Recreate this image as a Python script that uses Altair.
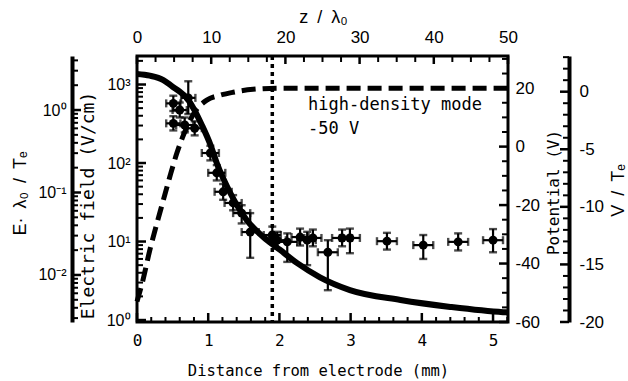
import altair as alt
import pandas as pd

# ---------------- data ----------------
# measured electric field points (distance in mm, field in V/cm)
PT_MM = [0.51, 0.60, 0.72, 0.51, 0.67, 0.81, 1.03, 1.12, 1.21, 1.35, 1.47, 1.59,
         1.90, 1.97, 2.11, 2.29, 2.39, 2.47, 2.68, 2.88, 2.99, 3.51, 4.02, 4.51, 5.00]
PT_E = [575, 473, 676, 320, 305, 277, 134, 75, 43, 31, 23, 13.2,
        12.1, 10.4, 9.9, 11.4, 10.4, 11.1, 7.3, 11.1, 11.1, 10.1, 9.0, 9.9, 10.4]
PT_ELO = [460, 380, 420, 260, 245, 225, 108, 60, 34, 25, 17, 6.2,
          9.5, 8.1, 5.5, 8.9, 5.0, 8.7, 2.4, 8.7, 7.1, 7.9, 6.0, 7.7, 7.3]
PT_EHI = [720, 590, 1100, 395, 380, 340, 166, 94, 54, 39, 29, 23,
          15.5, 13.3, 12.7, 14.6, 13.3, 14.2, 10.4, 14.2, 14.6, 12.9, 12.1, 12.7, 14.4]
PT_XERR = [0.10, 0.10, 0.10, 0.10, 0.12, 0.10, 0.12, 0.12, 0.12, 0.12, 0.12, 0.12,
           0.12, 0.12, 0.14, 0.12, 0.12, 0.12, 0.14, 0.14, 0.14, 0.14, 0.14, 0.14, 0.14]

# calculated electric field (solid curve)
EC_MM = [0, 0.18, 0.37, 0.50, 0.60, 0.70, 0.79, 0.91, 1.03, 1.12, 1.31, 1.54, 1.77,
         2.01, 2.25, 2.57, 2.99, 3.70, 4.40, 5.14, 5.21]
EC_VAL = [1360, 1295, 1140, 937, 810, 673, 502, 305, 172, 100, 41.5, 18.8, 11.5,
          7.8, 5.3, 3.5, 2.41, 1.80, 1.47, 1.26, 1.25]

# potential (dashed curve), V
PC_MM = [0, 0.08, 0.18, 0.28, 0.37, 0.46, 0.56, 0.67, 0.81, 0.98, 1.17, 1.35, 1.63, 2.0, 3.0, 5.21]
PC_VAL = [-53, -46, -35.4, -26.2, -18.3, -10.4, -2.2, 5.0, 11.8, 15.9, 17.6, 18.6, 19.6, 20, 20, 20]

DOT_MM = [1.90]
ANNOT = ["high-density mode", "-50 V"]

# axis tick values
X_MAJ = [0, 1, 2, 3, 4, 5]
X_MIN = [round(0.2 * i, 1) for i in range(27) if i % 5]
Z_MAJ = [0, 10, 20, 30, 40, 50]
Z_MIN = [2.5 * i for i in range(21) if i % 4]
E_MAJ = [1, 10, 100, 1000]
E_MIN = [m * 10 ** k for k in range(0, 4) for m in range(2, 10) if m * 10 ** k <= 2300]
EN_MAJ = [0.01, 0.1, 1]
EN_MIN = [round(m * 10.0 ** k, 6) for k in range(-3, 1) for m in range(2, 10)
          if 0.0027 <= m * 10.0 ** k <= 4.5]
P_MAJ = [-60, -40, -20, 0, 20]
P_MIN = [v for v in range(-55, 31, 5) if v % 20]
VT_MAJ = [-20, -15, -10, -5, 0]
VT_MIN = [v for v in range(-19, 4) if v % 5]

# ---------------- scales ----------------
W, H = 371, 266
sx = alt.Scale(domain=[0, 5.21], nice=False, zero=False)
sz = alt.Scale(domain=[0, 50], nice=False, zero=False)
se = alt.Scale(type="log", domain=[0.944, 2307], nice=False)
sen = alt.Scale(type="log", domain=[0.00269, 4.52], nice=False)
sp = alt.Scale(domain=[-60, 31], nice=False, zero=False)
svt = alt.Scale(domain=[-20, 3.1], nice=False, zero=False)

SUP = ("datum.value == 1 ? '10\u2070' : datum.value == 10 ? '10\u00b9' : "
       "datum.value == 100 ? '10\u00b2' : datum.value == 1000 ? '10\u00b3' : "
       "datum.value == 0.1 ? '10\u207b\u00b9' : datum.value == 0.01 ? '10\u207b\u00b2' : ''")
HYPH = "datum.value < 0 ? '-' + (-datum.value) : '' + datum.value"

HELV = "Liberation Sans"
GOTH = "DejaVu Sans Mono"
SP = "\u2002"  # en space (not collapsed in SVG)

common = dict(grid=False, ticks=False, labelColor="black", titleColor="black",
              titleFontWeight="normal", titleAlign="center", titleBaseline="middle",
              labelFlush=False, labelOverlap=False)

ax_bottom = alt.Axis(orient="bottom", values=X_MAJ, domain=False, labelFont=GOTH,
                     labelFontSize=16, labelPadding=10,
                     title="Distance from electrode (mm)", titleFont=GOTH, titleFontSize=15.5,
                     titleX=181, titleY=48, **common)
ax_top = alt.Axis(orient="top", values=Z_MAJ, domain=False, labelFont=HELV,
                  labelFontSize=17, labelPadding=10,
                  title="z" + SP + "/" + SP + "\u03bb\u2080", titleFont=HELV, titleFontSize=18,
                  titleX=186, titleY=-39, **common)
ax_left_in = alt.Axis(orient="left", values=E_MAJ, labelExpr=SUP, domain=False,
                      labelFont=HELV, labelFontSize=16, labelPadding=7,
                      title="Electric field (V/cm)", titleFont=GOTH, titleFontSize=18,
                      titleAngle=270, titleX=-49, titleY=149, **common)
ax_left_out = alt.Axis(orient="left", offset=65, values=EN_MAJ, labelExpr=SUP, domain=True,
                       domainColor="black", domainWidth=4, labelFont=HELV, labelFontSize=16,
                       labelPadding=6,
                       title="E\u00b7" + SP + "\u03bb\u2080" + SP + "/" + SP + "T\u2091",
                       titleFont=HELV, titleFontSize=18, titleAngle=270, titleX=-52, titleY=137,
                       **common)
ax_right_in = alt.Axis(orient="right", values=P_MAJ, labelExpr=HYPH, domain=False,
                       labelFont=HELV, labelFontSize=17, labelPadding=7,
                       title="Potential" + SP + "(V)", titleFont=GOTH, titleFontSize=16,
                       titleAngle=270, titleX=45, titleY=136, **common)
ax_right_out = alt.Axis(orient="right", offset=61, values=VT_MAJ, labelExpr=HYPH, domain=True,
                        domainColor="black", domainWidth=4, labelFont=HELV,
                        labelFontSize=17, labelPadding=10,
                        title="V" + SP + "/" + SP + "T\u2091",
                        titleFont=HELV, titleFontSize=18, titleAngle=270,
                        titleX=49, titleY=134, **common)


def yticks(vals, scale, x0, x1, axis=None, sw=2.5):
    return alt.Chart(pd.DataFrame({"v": vals})).mark_rule(color="black", strokeWidth=sw).encode(
        y=alt.Y("v:Q", scale=scale, axis=axis), x=alt.value(x0), x2=alt.value(x1))


def xticks(vals, scale, y0, y1, axis=None, sw=2.5):
    return alt.Chart(pd.DataFrame({"v": vals})).mark_rule(color="black", strokeWidth=sw).encode(
        x=alt.X("v:Q", scale=scale, axis=axis), y=alt.value(y0), y2=alt.value(y1))


# ---------------- data layers ----------------
df_pts = pd.DataFrame({"mm": PT_MM, "E": PT_E, "lo": PT_ELO, "hi": PT_EHI, "xe": PT_XERR})
df_pts["xl"] = df_pts["mm"] - df_pts["xe"]
df_pts["xr"] = df_pts["mm"] + df_pts["xe"]

X = lambda f: alt.X(f, scale=sx, axis=None)
Y = lambda f: alt.Y(f, scale=se, axis=None)

e_curve = alt.Chart(pd.DataFrame({"mm": EC_MM, "E": EC_VAL})).mark_line(
    color="black", strokeWidth=6, interpolate="monotone").encode(x=X("mm:Q"), y=Y("E:Q"))

p_curve = alt.Chart(pd.DataFrame({"mm": PC_MM, "V": PC_VAL})).mark_line(
    color="black", strokeWidth=5, strokeDash=[14, 7], interpolate="monotone").encode(
    x=X("mm:Q"), y=alt.Y("V:Q", scale=sp, axis=None))

dotted = alt.Chart(pd.DataFrame({"mm": DOT_MM})).mark_rule(
    color="black", strokeWidth=3.5, strokeDash=[4, 4]).encode(x=X("mm:Q"))

vbar = alt.Chart(df_pts).mark_rule(color="black", strokeWidth=2.2).encode(
    x=X("mm:Q"), y=Y("lo:Q"), y2="hi:Q")
hbar = alt.Chart(df_pts).mark_rule(color="black", strokeWidth=2.2).encode(
    x=X("xl:Q"), x2="xr:Q", y=Y("E:Q"))

capv_df = pd.concat([df_pts[["mm", "lo"]].rename(columns={"lo": "e"}),
                     df_pts[["mm", "hi"]].rename(columns={"hi": "e"})])
caph_df = pd.concat([df_pts[["xl", "E"]].rename(columns={"xl": "m"}),
                     df_pts[["xr", "E"]].rename(columns={"xr": "m"})])
capv = alt.Chart(capv_df).mark_tick(orient="horizontal", size=8, thickness=2.4, color="black").encode(
    x=X("mm:Q"), y=Y("e:Q"))
caph = alt.Chart(caph_df).mark_tick(orient="vertical", size=8, thickness=2.4, color="black").encode(
    x=X("m:Q"), y=Y("E:Q"))

pts = alt.Chart(df_pts).mark_point(filled=True, shape="circle", size=80, color="black",
                                   opacity=1).encode(x=X("mm:Q"), y=Y("E:Q"))

one = pd.DataFrame({"a": [0]})
txt1 = alt.Chart(one).mark_text(text=ANNOT[0], x=171, y=49, align="left", baseline="middle",
                                font=GOTH, fontSize=17, color="black")
txt2 = alt.Chart(one).mark_text(text=ANNOT[1], x=171, y=73, align="left", baseline="middle",
                                font=GOTH, fontSize=17, color="black")

# ---------------- tick layers (inward ticks) ----------------
ticks = [
    xticks(X_MAJ, sx, H, H - 9, axis=ax_bottom),
    xticks(X_MIN, sx, H, H - 5, sw=2),
    xticks(Z_MAJ, sz, 0, 8, axis=ax_top),
    xticks(Z_MIN, sz, 0, 6, sw=2),
    yticks(E_MAJ, se, 0, 9, axis=ax_left_in),
    yticks(E_MIN, se, 0, 6, sw=2),
    yticks(EN_MAJ, sen, -65, -56, axis=ax_left_out),
    yticks(EN_MIN, sen, -65, -59, sw=2),
    yticks(P_MAJ, sp, W, W - 9, axis=ax_right_in),
    yticks(P_MIN, sp, W, W - 6, sw=2),
    yticks(VT_MAJ, svt, W + 61, W + 52, axis=ax_right_out),
    yticks(VT_MIN, svt, W + 61, W + 55, sw=2),
]

chart = alt.layer(
    e_curve, p_curve, dotted, vbar, hbar, capv, caph, pts, txt1, txt2, *ticks
).resolve_scale(x="independent", y="independent").properties(
    width=W, height=H,
    padding={"left": 137, "top": 56, "right": 120, "bottom": 59},
    autosize=alt.AutoSizeParams(type="none"),
    background="white",
).configure_view(stroke="black", strokeWidth=3)

chart.save("out.html", embed_options={"renderer": "svg", "actions": False})
